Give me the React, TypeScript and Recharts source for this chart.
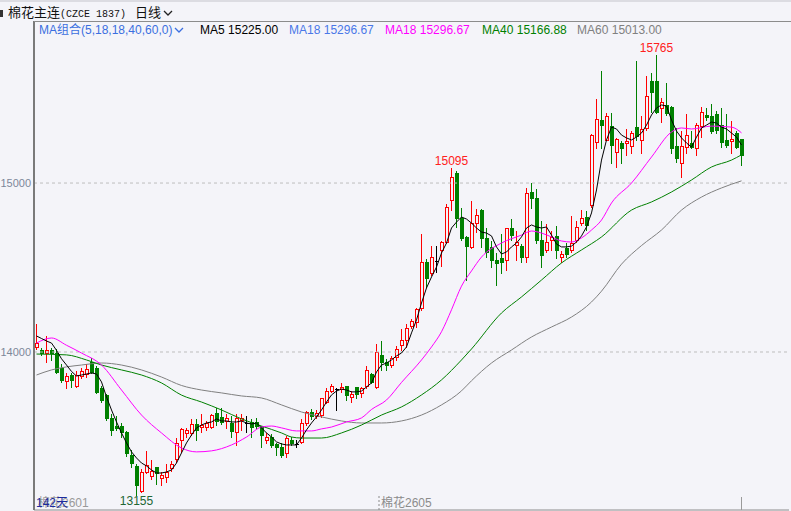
import React from "react";
import {
  ComposedChart, Bar, Line, XAxis, YAxis, ReferenceLine, ReferenceDot,
} from "recharts";

const FONT = "'Liberation Sans', 'Noto Sans CJK SC', sans-serif";
const BG = "#f4f4f9";
const UP = "#ff0000";
const DOWN = "#008000";

// 142 daily candles, plus empty slots so the plot runs on to the right edge
const CANDLES = 142;
const SLOTS = 151;

const opens = [
  14030, 14012, 13994, 14012, 13994, 13905, 13829, 13864, 13799, 13858,
  13870, 13941, 13905, 13787, 13746, 13610, 13562, 13562, 13527, 13391,
  13326, 13178, 13290, 13267, 13320, 13255, 13261, 13314, 13367, 13480,
  13521, 13521, 13574, 13556, 13556, 13556, 13639, 13616, 13592, 13580,
  13527, 13598, 13580, 13586, 13586, 13556, 13480, 13497, 13456, 13438,
  13403, 13480, 13456, 13468, 13580, 13645, 13622, 13627, 13704, 13769,
  13781, 13781, 13799, 13734, 13793, 13758, 13799, 13870, 13793, 13982,
  13941, 13923, 13971, 14042, 14071, 14154, 14178, 14261, 14533, 14468,
  14539, 14604, 14651, 14900, 15059, 14793, 14681, 14622, 14764, 14840,
  14675, 14622, 14545, 14556, 14545, 14734, 14633, 14627, 14562, 14947,
  14911, 14663, 14604, 14663, 14687, 14562, 14616, 14604, 14663, 14764,
  14799, 14870, 15243, 15373, 15255, 15337, 15184, 15237, 15237, 15219,
  15331, 15255, 15326, 15603, 15603, 15444, 15462, 15450, 15219, 15118,
  15213, 15237, 15207, 15337, 15403, 15397, 15409, 15343, 15255, 15249,
  15296, 15261,
];

const highs = [
  14173, 14030, 14101, 14030, 14024, 13935, 13882, 13882, 13894, 13912,
  13935, 13971, 13923, 13805, 13758, 13639, 13627, 13586, 13539, 13426,
  13343, 13314, 13420, 13367, 13326, 13296, 13343, 13361, 13497, 13556,
  13556, 13610, 13610, 13639, 13598, 13639, 13675, 13675, 13639, 13627,
  13639, 13639, 13627, 13610, 13616, 13568, 13527, 13521, 13468, 13468,
  13509, 13503, 13486, 13610, 13657, 13669, 13663, 13734, 13793, 13817,
  13793, 13823, 13805, 13775, 13793, 13799, 13923, 13882, 14053, 14071,
  13965, 13983, 14041, 14142, 14172, 14204, 14266, 14704, 14556, 14633,
  14633, 14663, 14882, 15095, 15077, 14858, 14692, 14900, 14852, 14852,
  14740, 14663, 14592, 14704, 14740, 14793, 14722, 14645, 14976, 15006,
  14971, 14781, 14764, 14722, 14752, 14604, 14651, 14811, 14781, 14846,
  14840, 15296, 15503, 15669, 15420, 15420, 15272, 15255, 15326, 15314,
  15728, 15403, 15639, 15657, 15765, 15509, 15598, 15462, 15331, 15314,
  15414, 15314, 15361, 15456, 15450, 15474, 15432, 15450, 15414, 15373,
  15314, 15267,
];

const lows = [
  14018, 13983, 13941, 13953, 13876, 13823, 13787, 13790, 13793, 13847,
  13852, 13876, 13758, 13704, 13598, 13509, 13539, 13497, 13385, 13320,
  13155, 13172, 13284, 13249, 13219, 13213, 13231, 13296, 13349, 13409,
  13497, 13509, 13480, 13527, 13539, 13551, 13568, 13574, 13551, 13497,
  13450, 13539, 13527, 13497, 13551, 13438, 13462, 13438, 13391, 13379,
  13379, 13450, 13438, 13462, 13568, 13604, 13610, 13616, 13698, 13764,
  13657, 13764, 13716, 13704, 13728, 13734, 13787, 13817, 13787, 13894,
  13894, 13912, 13953, 14012, 14030, 14142, 14148, 14249, 14385, 14456,
  14474, 14509, 14645, 14840, 14740, 14663, 14426, 14616, 14710, 14622,
  14562, 14503, 14397, 14468, 14485, 14663, 14545, 14533, 14533, 14852,
  14645, 14503, 14592, 14604, 14556, 14533, 14562, 14592, 14651, 14752,
  14722, 14858, 15207, 15207, 15255, 15118, 15095, 15118, 15166, 15178,
  15255, 15178, 15314, 15420, 15414, 15361, 15403, 15178, 15124, 15036,
  15178, 15207, 15166, 15272, 15373, 15296, 15296, 15213, 15213, 15178,
  15207, 15107,
];

const closes = [
  14053, 13994, 14012, 13994, 13882, 13835, 13858, 13835, 13864, 13888,
  13900, 13882, 13764, 13716, 13610, 13539, 13551, 13527, 13403, 13343,
  13213, 13290, 13332, 13296, 13284, 13273, 13290, 13338, 13462, 13545,
  13539, 13574, 13539, 13568, 13580, 13627, 13592, 13586, 13610, 13533,
  13610, 13610, 13580, 13556, 13562, 13509, 13497, 13450, 13438, 13391,
  13492, 13462, 13456, 13580, 13645, 13622, 13639, 13728, 13769, 13799,
  13781, 13793, 13746, 13752, 13752, 13787, 13894, 13823, 14000, 13941,
  13923, 13965, 14018, 14071, 14142, 14186, 14255, 14533, 14438, 14562,
  14539, 14651, 14858, 15036, 14793, 14675, 14627, 14763, 14811, 14675,
  14592, 14545, 14527, 14533, 14734, 14692, 14651, 14562, 14941, 14911,
  14663, 14574, 14651, 14681, 14604, 14580, 14580, 14645, 14740, 14793,
  14752, 15284, 15379, 15343, 15397, 15225, 15261, 15207, 15249, 15296,
  15278, 15320, 15515, 15539, 15420, 15479, 15414, 15207, 15148, 15219,
  15284, 15213, 15343, 15420, 15391, 15308, 15314, 15243, 15225, 15261,
  15213, 15166,
];

const ma5 = [
  14095, 14080, 14065, 14053, 14010, 13960, 13923, 13885, 13858, 13864,
  13870, 13876, 13870, 13823, 13734, 13657, 13586, 13521, 13462, 13409,
  13373, 13343, 13326, 13302, 13284, 13284, 13290, 13302, 13343, 13403,
  13462, 13509, 13551, 13568, 13580, 13586, 13604, 13592, 13592, 13586,
  13586, 13592, 13580, 13574, 13580, 13551, 13521, 13497, 13468, 13456,
  13450, 13450, 13450, 13491, 13539, 13580, 13616, 13657, 13704, 13746,
  13769, 13781, 13775, 13764, 13764, 13769, 13793, 13817, 13882, 13923,
  13935, 13953, 13977, 13994, 14030, 14113, 14190, 14290, 14379, 14444,
  14503, 14586, 14645, 14734, 14769, 14799, 14787, 14763, 14734, 14710,
  14704, 14687, 14622, 14580, 14592, 14622, 14645, 14681, 14734, 14752,
  14740, 14734, 14740, 14692, 14639, 14622, 14622, 14627, 14651, 14687,
  14740, 14823, 14959, 15136, 15255, 15331, 15320, 15284, 15267, 15255,
  15272, 15296, 15343, 15403, 15444, 15462, 15456, 15373, 15308, 15267,
  15237, 15213, 15272, 15326, 15343, 15361, 15355, 15331, 15320, 15296,
  15272, 15225,
];

// slower averages at [candle, value]
const ma18Pts: [number, number][] = [
  [0, 14053], [3, 14083], [6, 14040], [9, 13994], [13, 13923], [17, 13775],
  [21, 13627], [25, 13521], [29, 13432], [32, 13409], [35, 13415], [39, 13450],
  [42, 13497], [45, 13556], [47, 13562], [49, 13551], [52, 13533], [55, 13533],
  [57, 13545], [59, 13556], [62, 13586], [65, 13610], [67, 13660], [70, 13716],
  [73, 13820], [77, 13953], [79, 14030], [81, 14120], [83, 14250], [85, 14390],
  [87, 14480], [89, 14562], [93, 14645], [97, 14692], [99, 14716], [101, 14704],
  [103, 14681], [105, 14657], [107, 14651], [109, 14675], [111, 14722], [113, 14781],
  [115, 14882], [119, 15000], [123, 15154], [127, 15302], [129, 15326], [131, 15320],
  [135, 15337], [139, 15331], [141, 15297],
];

const ma40Pts: [number, number][] = [
  [0, 13988], [6, 13983], [10, 13953], [13, 13923], [17, 13894], [21, 13864],
  [25, 13817], [29, 13745], [33, 13704], [37, 13657], [41, 13604], [45, 13562],
  [49, 13521], [51, 13497], [53, 13491], [57, 13491], [61, 13521], [65, 13568],
  [69, 13627], [73, 13675], [77, 13746], [81, 13835], [85, 13953], [87, 14018],
  [93, 14231], [97, 14326], [101, 14426], [105, 14527], [109, 14604], [113, 14681],
  [119, 14840], [123, 14888], [127, 14947], [131, 15018], [135, 15095], [139, 15136],
  [141, 15167],
];

const ma60Pts: [number, number][] = [
  [0, 13864], [3, 13894], [6, 13912], [9, 13923], [13, 13935], [17, 13923],
  [21, 13894], [25, 13852], [29, 13802], [33, 13775], [37, 13758], [41, 13740],
  [45, 13728], [49, 13687], [53, 13645], [57, 13616], [61, 13592], [65, 13580],
  [69, 13580], [73, 13592], [77, 13627], [81, 13687], [85, 13770], [87, 13830],
  [91, 13935], [95, 14012], [99, 14089], [103, 14148], [107, 14207], [111, 14296],
  [113, 14360], [117, 14520], [121, 14630], [125, 14722], [129, 14840], [133, 14917],
  [137, 14971], [141, 15013],
];

const yTicks = [14000, 15000];

const marks = [
  { i: 124, kind: "high" },
  { i: 83, kind: "high" },
  { i: 20, kind: "low" },
];

const maLegend = [
  { name: "MA5", value: "15225.00", color: "#000000" },
  { name: "MA18", value: "15296.67", color: "#4a78e8" },
  { name: "MA18", value: "15296.67", color: "#ff00ff" },
  { name: "MA40", value: "15166.88", color: "#008000" },
  { name: "MA60", value: "15013.00", color: "#808080" },
];

const m18 = new Map(ma18Pts);
const m40 = new Map(ma40Pts);
const m60 = new Map(ma60Pts);

const rows = Array.from({ length: SLOTS }, (_, i) => {
  if (i >= CANDLES) return { idx: i, range: null };
  return {
    idx: i,
    range: [lows[i], highs[i]],
    o: opens[i], h: highs[i], l: lows[i], c: closes[i],
    ma5: ma5[i],
    ma18: m18.get(i) ?? null,
    ma40: m40.get(i) ?? null,
    ma60: m60.get(i) ?? null,
  };
});

function Candle(props: any) {
  const { x, y, width, height, payload } = props;
  if (!payload || payload.h == null) return null;
  const top = Math.min(y, y + height);
  const bot = Math.max(y, y + height);
  const { o, h, l, c } = payload;
  const span = h - l || 1;
  const py = (v: number) => Math.round(top + ((h - v) / span) * (bot - top)) + 0.5;
  const cx = Math.floor(x + width / 2) + 0.5;
  const yh = py(h), yl = py(l), yo = py(o), yc = py(c);

  if (o === c) {
    return (
      <g shapeRendering="crispEdges">
        <line x1={cx} x2={cx} y1={yh} y2={yl} stroke="#000" />
        <line x1={cx - 1.5} x2={cx + 2.5} y1={yo} y2={yo} stroke="#000" />
      </g>
    );
  }
  if (c > o) {
    return (
      <g shapeRendering="crispEdges">
        <line x1={cx} x2={cx} y1={yh} y2={yc} stroke={UP} />
        <line x1={cx} x2={cx} y1={yo} y2={yl} stroke={UP} />
        <rect x={cx - 1} y={yc} width={3} height={Math.max(yo - yc, 1)} fill={BG} stroke={UP} />
      </g>
    );
  }
  return (
    <g shapeRendering="crispEdges">
      <line x1={cx} x2={cx} y1={yh} y2={yl} stroke={DOWN} />
      <rect x={cx - 1.5} y={yo - 0.5} width={4} height={Math.max(yc - yo + 1, 1)} fill={DOWN} />
    </g>
  );
}

function BottomTick({ x, y, payload }: any) {
  const i = payload?.value;
  if (i === 0) {
    return (
      <g fontFamily={FONT} fontSize={12}>
        <text x={x + 1.5} y={y - 3} fill="#9a9a9a">棉花2601</text>
        <text x={x - 0.5} y={y - 3} fill="#1c2a9c">142天</text>
      </g>
    );
  }
  if (i === 69) {
    return (
      <g fontFamily={FONT} fontSize={12}>
        <line x1={x - 2.5} x2={x - 2.5} y1={y - 14} y2={y} stroke="#8a8a8a" strokeDasharray="2 2" />
        <text x={x - 0.5} y={y - 3} fill="#8c8c8c">棉花2605</text>
      </g>
    );
  }
  if (i === CANDLES - 1) {
    return <line x1={x} x2={x} y1={y - 13} y2={y} stroke="#9a9a9a" />;
  }
  return <g />;
}

function Chevron({ color }: { color: string }) {
  return (
    <svg width={10} height={7} style={{ marginLeft: 2, verticalAlign: "middle" }}>
      <polyline points="1,1 5,5 9,1" fill="none" stroke={color} strokeWidth={1.3} />
    </svg>
  );
}

const legendLeft = [200, 289, 385, 482, 577];

export default function App() {
  return (
    <div style={{ position: "relative", width: 791, height: 511, background: BG, overflow: "hidden", fontFamily: FONT }}>
      <style>{"body{margin:0}"}</style>
      <div style={{ position: "absolute", left: 0, top: 0 }}>
        <ComposedChart
          width={791}
          height={511}
          data={rows}
          margin={{ top: 21, right: 2, bottom: 0, left: 0 }}
          style={{ fontFamily: FONT }}
        >
          <XAxis
            dataKey="idx"
            type="category"
            height={1}
            interval={0}
            tickLine={false}
            tickSize={0}
            tickMargin={0}
            axisLine={{ stroke: "#8c8c8c" }}
            tick={<BottomTick />}
          />
          <YAxis
            type="number"
            domain={[13065, 15959]}
            allowDataOverflow
            ticks={yTicks}
            width={34}
            tickSize={1}
            tickMargin={2}
            tickLine={false}
            axisLine={{ stroke: "#7a7a7a", strokeWidth: 2 }}
            tick={{ fill: "#7d8799", fontSize: 11, fontFamily: FONT }}
          />
          {yTicks.map((v) => (
            <ReferenceLine key={v} y={v} stroke="#bdbdbd" strokeDasharray="3 3" />
          ))}
          <Bar dataKey="range" shape={<Candle />} isAnimationActive={false} />
          <Line dataKey="ma60" type="monotone" stroke="#808080" strokeWidth={1} dot={false} connectNulls isAnimationActive={false} />
          <Line dataKey="ma40" type="monotone" stroke="#008000" strokeWidth={1} dot={false} connectNulls isAnimationActive={false} />
          <Line dataKey="ma18" type="monotone" stroke="#ff00ff" strokeWidth={1} dot={false} connectNulls isAnimationActive={false} />
          <Line dataKey="ma5" type="linear" stroke="#000000" strokeWidth={1} dot={false} isAnimationActive={false} />
          {marks.map((m) => {
            const v = m.kind === "high" ? highs[m.i] : lows[m.i];
            return (
              <ReferenceDot
                key={m.i}
                x={m.i}
                y={v}
                r={0}
                fill="none"
                stroke="none"
                label={{
                  value: String(v),
                  position: m.kind === "high" ? "top" : "bottom",
                  offset: 2,
                  fill: m.kind === "high" ? "#ff2020" : "#226633",
                  fontSize: 12,
                  fontFamily: FONT,
                }}
              />
            );
          })}
        </ComposedChart>
      </div>

      {/* header rows */}
      <div style={{ position: "absolute", left: 0, top: 0, width: 791, height: 2, background: "#dcdce2" }} />
      <div style={{ position: "absolute", left: 0, top: 10, width: 3, height: 7, background: "#333" }} />
      <div style={{ position: "absolute", left: 8, top: 4, fontSize: 13, lineHeight: "17px", color: "#111", whiteSpace: "nowrap" }}>
        棉花主连<span style={{ fontFamily: "'Liberation Mono', monospace", fontSize: 10 }}>(CZCE 1837)</span>
      </div>
      <div style={{ position: "absolute", left: 135, top: 4, fontSize: 13, lineHeight: "17px", color: "#111", whiteSpace: "nowrap" }}>
        日线<Chevron color="#222" />
      </div>
      <div style={{ position: "absolute", left: 34, top: 21, width: 757, height: 1, background: "#8c8c8c" }} />
      <div style={{ position: "absolute", left: 39, top: 23, fontSize: 12, lineHeight: "15px", color: "#3b6fe0", whiteSpace: "nowrap" }}>
        MA组合(5,18,18,40,60,0)<Chevron color="#3b6fe0" />
      </div>
      {maLegend.map((m, k) => (
        <div
          key={k}
          style={{ position: "absolute", left: legendLeft[k], top: 23, fontSize: 12, lineHeight: "15px", color: m.color, whiteSpace: "nowrap" }}
        >
          {m.name} {m.value}
        </div>
      ))}
    </div>
  );
}
